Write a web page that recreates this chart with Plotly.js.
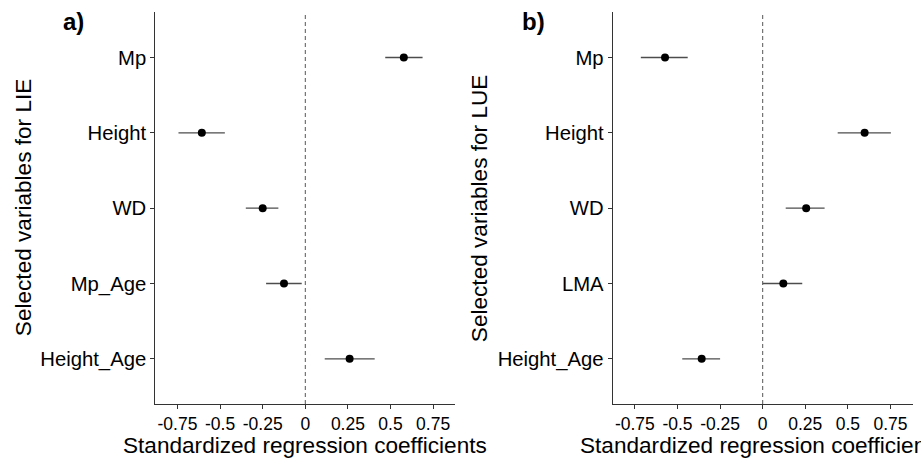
<!DOCTYPE html>
<html>
<head>
<meta charset="utf-8">
<script src="https://cdn.plot.ly/plotly-3.0.1.min.js"></script>
<style>html,body{margin:0;padding:0;background:#fff;}#chart{width:921px;height:458px;}</style>
</head>
<body>
<div id="chart"></div>
<script>
// Panel a) LIE
const categoriesA = ['Height_Age', 'Mp_Age', 'WD', 'Height', 'Mp'];
const estA  = [0.260, -0.125, -0.250, -0.607, 0.578];
const lowA  = [0.114, -0.230, -0.349, -0.744, 0.469];
const highA = [0.407, -0.021, -0.158, -0.472, 0.688];

// Panel b) LUE
const categoriesB = ['Height_Age', 'LMA', 'WD', 'Height', 'Mp'];
const estB  = [-0.358, 0.121, 0.255, 0.598, -0.573];
const lowB  = [-0.472, 0.000, 0.135, 0.440, -0.715];
const highB = [-0.250, 0.232, 0.363, 0.752, -0.440];

const xTickVals = [-0.75, -0.5, -0.25, 0, 0.25, 0.5, 0.75];
const xTickText = ['-0.75', '-0.5', '-0.25', '0', '0.25', '0.5', '0.75'];
const refLine = [0];

const FONT = 'Liberation Sans, Arial, sans-serif';

function trace(cats, est, low, high, xa, ya) {
  return {
    type: 'scatter', mode: 'markers', x: est, y: cats, xaxis: xa, yaxis: ya,
    marker: {size: 8, color: '#000'},
    error_x: {
      type: 'data', symmetric: false,
      array: high.map((h, i) => h - est[i]),
      arrayminus: low.map((l, i) => est[i] - l),
      width: 0, thickness: 1.3, color: '#4d4d4d'
    },
    hoverinfo: 'skip', showlegend: false
  };
}

const W = 921, H = 458;
const yDom = [(H - 404) / H, (H - 12.3) / H];

function xAxis(dom, anchor) {
  return {
    domain: dom, anchor: anchor, range: [-0.88, 0.88],
    tickmode: 'array', tickvals: xTickVals, ticktext: xTickText, tickangle: 0,
    ticks: 'outside', ticklen: 4, tickwidth: 1, tickcolor: '#333',
    showline: true, linecolor: '#333', linewidth: 1,
    showgrid: false, zeroline: false,
    tickfont: {family: FONT, size: 17.5, color: '#000'}
  };
}
function yAxis(cats, anchor) {
  return {
    domain: yDom, anchor: anchor, type: 'category',
    categoryorder: 'array', categoryarray: cats, range: [-0.6, 4.6],
    ticks: 'outside', ticklen: 4, tickwidth: 1, tickcolor: '#333',
    showline: true, linecolor: '#333', linewidth: 1,
    showgrid: false, zeroline: false,
    tickfont: {family: FONT, size: 20.3, color: '#000'}
  };
}

const data = [
  trace(categoriesA, estA, lowA, highA, 'x', 'y'),
  trace(categoriesB, estB, lowB, highB, 'x2', 'y2')
];

const titleFont = {family: FONT, size: 22.6, color: '#000'};
const yMid = (yDom[0] + yDom[1]) / 2;

const layout = {
  width: W, height: H,
  margin: {l: 0, r: 0, t: 0, b: 0, pad: 0},
  paper_bgcolor: '#fff', plot_bgcolor: '#fff',
  hovermode: false, showlegend: false,
  xaxis: xAxis([155.3 / W, 455.3 / W], 'y'),
  yaxis: yAxis(categoriesA, 'x'),
  xaxis2: xAxis([612.7 / W, 912.7 / W], 'y2'),
  yaxis2: yAxis(categoriesB, 'x2'),
  shapes: [
    {type: 'line', xref: 'x', yref: 'y domain', x0: refLine[0], x1: refLine[0], y0: 0, y1: 1,
     line: {color: '#555', width: 1, dash: '4px,3px'}, layer: 'below'},
    {type: 'line', xref: 'x2', yref: 'y2 domain', x0: refLine[0], x1: refLine[0], y0: 0, y1: 1,
     line: {color: '#555', width: 1, dash: '4px,3px'}, layer: 'below'}
  ],
  annotations: [
    {text: 'Selected variables for LIE', xref: 'paper', yref: 'paper', x: 23 / W, y: yMid,
     xanchor: 'center', yanchor: 'middle', textangle: -90, showarrow: false, font: titleFont},
    {text: 'Selected variables for LUE', xref: 'paper', yref: 'paper', x: 479 / W, y: yMid,
     xanchor: 'center', yanchor: 'middle', textangle: -90, showarrow: false, font: titleFont},
    {text: 'Standardized regression coefficients', xref: 'paper', yref: 'paper', x: 305 / W, y: (H - 445) / H,
     xanchor: 'center', yanchor: 'middle', showarrow: false, font: titleFont},
    {text: 'Standardized regression coefficients', xref: 'paper', yref: 'paper', x: 762 / W, y: (H - 445) / H,
     xanchor: 'center', yanchor: 'middle', showarrow: false, font: titleFont},
    {text: '<b>a)</b>', xref: 'paper', yref: 'paper', x: 73 / W, y: (H - 21) / H,
     xanchor: 'center', yanchor: 'middle', showarrow: false,
     font: {family: FONT, size: 24, color: '#000'}},
    {text: '<b>b)</b>', xref: 'paper', yref: 'paper', x: 533 / W, y: (H - 21) / H,
     xanchor: 'center', yanchor: 'middle', showarrow: false,
     font: {family: FONT, size: 24, color: '#000'}}
  ]
};

Plotly.newPlot('chart', data, layout, {displayModeBar: false, responsive: false});
</script>
</body>
</html>
